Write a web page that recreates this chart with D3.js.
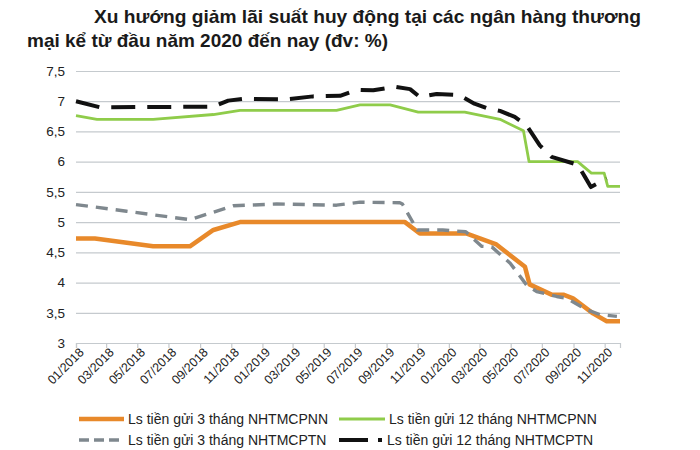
<!DOCTYPE html>
<html>
<head>
<meta charset="utf-8">
<script src="https://cdn.jsdelivr.net/npm/d3@7"></script>
<style>
  html, body { margin: 0; padding: 0; background: #ffffff; }
  svg { display: block; font-family: "Liberation Sans", Arial, sans-serif; }
</style>
</head>
<body>
<svg id="chart" width="700" height="450"></svg>
<script>
// ---- data ----
const titleLines = ["Xu hướng giảm lãi suất huy động tại các ngân hàng thương", "mại kể từ đầu năm 2020 đến nay (đv: %)"];
const xTickLabels = ["01/2018","03/2018","05/2018","07/2018","09/2018","11/2018","01/2019","03/2019","05/2019","07/2019","09/2019","11/2019","01/2020","03/2020","05/2020","07/2020","09/2020","11/2020"];
const yTicks = [3, 3.5, 4, 4.5, 5, 5.5, 6, 6.5, 7, 7.5];
const seriesNames = ["Ls tiền gửi 3 tháng NHTMCPNN", "Ls tiền gửi 12 tháng NHTMCPNN", "Ls tiền gửi 3 tháng NHTMCPTN", "Ls tiền gửi 12 tháng NHTMCPTN"];

const dates3mPNN = ["2018-01-01","2018-02-07","2018-06-01","2018-08-12","2018-09-27","2018-11-18","2019-10-07","2019-11-05","2020-02-05","2020-04-03","2020-05-29","2020-06-07","2020-07-20","2020-08-12","2020-08-31","2020-10-09","2020-11-05","2020-12-01"];
const values3mPNN = [4.73,4.73,4.60,4.60,4.87,5.00,5.00,4.81,4.81,4.63,4.26,3.97,3.80,3.80,3.74,3.49,3.36,3.36];

const dates12mPNN = ["2018-01-01","2018-02-11","2018-06-01","2018-09-27","2018-11-18","2019-05-26","2019-07-11","2019-09-08","2019-11-02","2020-02-01","2020-04-10","2020-05-26","2020-06-06","2020-09-09","2020-10-06","2020-10-31","2020-11-07","2020-12-01"];
const values12mPNN = [6.76,6.70,6.70,6.78,6.85,6.85,6.94,6.94,6.82,6.82,6.70,6.51,6.00,6.00,5.81,5.81,5.59,5.59];

const dates3mPTN = ["2018-01-01","2018-04-10","2018-08-12","2018-11-05","2019-01-29","2019-05-26","2019-07-11","2019-09-27","2019-10-02","2019-10-31","2019-12-20","2020-02-03","2020-03-05","2020-03-25","2020-04-30","2020-06-01","2020-06-21","2020-07-30","2020-08-19","2020-09-27","2020-10-23","2020-11-25"];
const values3mPTN = [5.29,5.18,5.04,5.27,5.30,5.28,5.33,5.32,5.30,4.87,4.87,4.84,4.60,4.59,4.32,3.96,3.85,3.77,3.74,3.55,3.47,3.44];

const dates12mPTN = ["2018-01-01","2018-02-17","2018-09-27","2018-10-26","2018-11-24","2019-02-17","2019-04-10","2019-06-02","2019-07-05","2019-08-06","2019-09-18","2019-10-17","2019-11-05","2019-12-08","2020-01-22","2020-02-20","2020-03-17","2020-04-10","2020-05-09","2020-06-01","2020-06-27","2020-07-20","2020-09-09","2020-09-24","2020-10-05","2020-11-05"];
const values12mPTN = [7.00,6.90,6.91,7.01,7.04,7.03,7.08,7.09,7.19,7.18,7.24,7.20,7.07,7.12,7.10,6.96,6.88,6.84,6.74,6.60,6.27,6.08,5.95,5.74,5.58,5.72];

// ---- setup ----
const svg = d3.select("#chart");
const parseDay = d3.timeParse("%Y-%m-%d");
const parseMonth = d3.timeParse("%m/%Y");
const fmtMonth = d3.timeFormat("%m/%Y");

const x = d3.scaleTime()
  .domain([parseDay("2018-01-01"), parseDay("2020-12-01")])
  .range([76, 620]);
const y = d3.scaleLinear().domain([3, 7.5]).range([343, 71]);

const gridColor = "#c5cace";
const textColor = "#222222";

// title
const titleLayout = [{ x: 94, y: 23, len: 547 }, { x: 27, y: 47, len: 361 }];
svg.append("g").selectAll("text").data(titleLines).join("text")
  .attr("x", (d, i) => titleLayout[i].x)
  .attr("y", (d, i) => titleLayout[i].y)
  .attr("textLength", (d, i) => titleLayout[i].len)
  .attr("lengthAdjust", "spacingAndGlyphs")
  .attr("font-size", 18.5)
  .attr("font-weight", "bold")
  .attr("fill", "#1a1a1a")
  .text(d => d);

// y gridlines and labels
const yAxis = d3.axisLeft(y)
  .tickValues(yTicks)
  .tickSize(-(620 - 76))
  .tickPadding(11)
  .tickFormat(d => String(d).replace(".", ","));
const gy = svg.append("g").attr("transform", "translate(76,0)").call(yAxis);
gy.select(".domain").remove();
gy.selectAll(".tick line").attr("stroke", gridColor).attr("stroke-width", 1.2);
gy.selectAll(".tick text").attr("font-size", 13.5).attr("fill", textColor)
  .attr("font-family", "Liberation Sans, Arial, sans-serif");

// x axis
const xAxis = d3.axisBottom(x)
  .tickValues(xTickLabels.map(parseMonth))
  .tickSize(5)
  .tickFormat(fmtMonth);
const gx = svg.append("g").attr("transform", `translate(0,${y(3)})`).call(xAxis);
gx.select(".domain").attr("stroke", gridColor).attr("stroke-width", 1.2);
gx.selectAll(".tick line").attr("stroke", gridColor).attr("stroke-width", 1.2);
gx.selectAll(".tick text")
  .attr("font-size", 12.5)
  .attr("fill", textColor)
  .attr("font-family", "Liberation Sans, Arial, sans-serif")
  .attr("text-anchor", "end")
  .attr("transform", "translate(5,7) rotate(-45)")
  .attr("dy", "0.35em")
  .attr("y", 0)
  .attr("x", 0);

// lines
const series = [
  { dates: dates3mPNN, values: values3mPNN, color: "#e8892a", width: 4.5, dash: null },
  { dates: dates12mPNN, values: values12mPNN, color: "#8fcc4a", width: 2.8, dash: null },
  { dates: dates3mPTN, values: values3mPTN, color: "#7f888e", width: 3.4, dash: "12,8" },
  { dates: dates12mPTN, values: values12mPTN, color: "#111111", width: 4, dash: "24,12" }
];
const line = d3.line().x(d => x(d[0])).y(d => y(d[1]));
series.forEach(s => {
  const pts = s.dates.map((d, i) => [parseDay(d), s.values[i]]);
  svg.append("path")
    .datum(pts)
    .attr("d", line)
    .attr("fill", "none")
    .attr("stroke", s.color)
    .attr("stroke-width", s.width)
    .attr("stroke-linejoin", "round")
    .attr("stroke-dasharray", s.dash);
});

// legend
const legendItems = [
  { name: seriesNames[0], color: "#e8892a", width: 4.5, dash: null, x1: 79, x2: 124, tx: 128, y: 419 },
  { name: seriesNames[1], color: "#8fcc4a", width: 3, dash: null, x1: 339, x2: 385, tx: 389, y: 419 },
  { name: seriesNames[2], color: "#7f888e", width: 3.4, dash: "10,5", x1: 79, x2: 120, tx: 128, y: 440 },
  { name: seriesNames[3], color: "#111111", width: 4, dash: "29,10", x1: 339, x2: 382, tx: 387, y: 440 }
];
const lg = svg.append("g");
legendItems.forEach(it => {
  lg.append("line")
    .attr("x1", it.x1).attr("x2", it.x2).attr("y1", it.y).attr("y2", it.y)
    .attr("stroke", it.color).attr("stroke-width", it.width)
    .attr("stroke-dasharray", it.dash);
  lg.append("text")
    .attr("x", it.tx).attr("y", it.y).attr("dy", "0.35em")
    .attr("font-size", 14).attr("fill", textColor)
    .text(it.name);
});
</script>
</body>
</html>
